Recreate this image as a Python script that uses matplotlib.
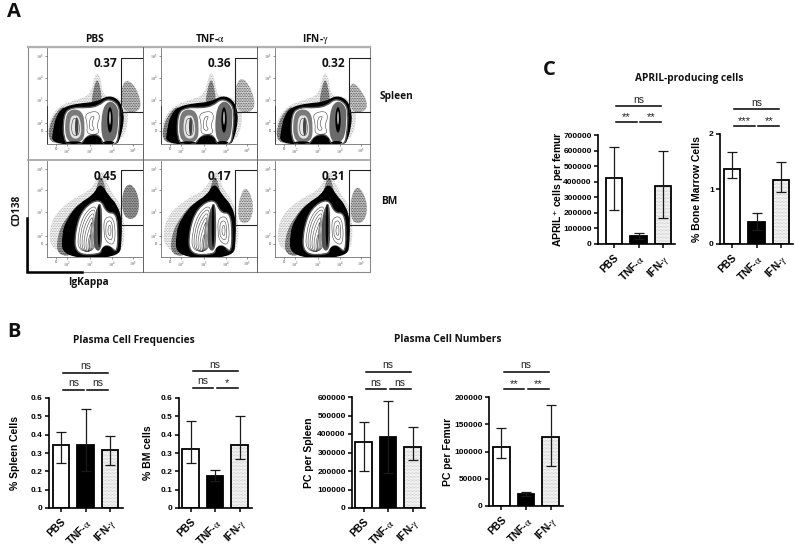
import matplotlib
matplotlib.use("Agg")
import matplotlib.pyplot as plt
from matplotlib.patches import Ellipse, PathPatch
from matplotlib.path import Path

W, H = 800, 548
plt.rcParams["font.family"] = ["Liberation Sans", "DejaVu Sans"]
plt.rcParams["mathtext.fontset"] = "stix"
plt.rcParams["hatch.linewidth"] = 0.4
HEAD = "Open Sans"

groups = ["PBS", r"TNF-$\mathrm{\alpha}$", r"IFN-$\mathrm{\gamma}$"]

# bar values: mean, top of error bar, bottom of error bar
b1_mean = [0.345, 0.345, 0.315]
b1_up = [0.415, 0.54, 0.395]
b1_low = [0.245, 0.20, 0.235]
b2_mean = [0.32, 0.175, 0.345]
b2_up = [0.475, 0.205, 0.50]
b2_low = [0.245, 0.15, 0.27]
b3_mean = [355000, 385000, 330000]
b3_up = [465000, 580000, 437000]
b3_low = [198000, 190000, 262000]
b4_mean = [108000, 22000, 127000]
b4_up = [143000, 26000, 186000]
b4_low = [88000, 18000, 74000]
c1_mean = [425000, 50000, 375000]
c1_up = [625000, 70000, 597000]
c1_low = [220000, 30000, 165000]
c2_mean = [1.36, 0.40, 1.17]
c2_up = [1.68, 0.57, 1.50]
c2_low = [1.20, 0.25, 0.95]

b1_ticks = [0, 0.1, 0.2, 0.3, 0.4, 0.5, 0.6]
b3_ticks = [0, 100000, 200000, 300000, 400000, 500000, 600000]
b4_ticks = [0, 50000, 100000, 150000, 200000]
c1_ticks = [0, 100000, 200000, 300000, 400000, 500000, 600000, 700000]
c2_ticks = [0, 1, 2]

# flow panels, values per panel
spleen_pct = ["0.37", "0.36", "0.32"]
bm_pct = ["0.45", "0.17", "0.31"]

# flow outlines
spleen_haze = [(143, 428), (143, 365), (175, 315), (240, 295), (272, 280), (285, 215), (300, 225), (308, 290),
               (345, 285), (385, 320), (380, 390), (355, 428)]
spleen_mids = [
    [(145, 428), (146, 375), (170, 330), (200, 312), (210, 428)],
    [(272, 318), (278, 270), (290, 232), (300, 260), (306, 310)],
]
spleen_black = [(155, 432), (160, 388), (170, 345), (192, 320), (240, 310), (290, 306), (325, 286), (356, 300),
                (370, 340), (365, 385), (356, 415), (348, 432)]
spleen_white = [(190, 434), (188, 340), (215, 320), (260, 322), (295, 316), (320, 294), (350, 306), (360, 335),
                (356, 400), (348, 434), (310, 434), (298, 405), (275, 400), (255, 412), (240, 434)]
spleen_fills = [
    ([(195, 426), (194, 345), (215, 324), (247, 332), (254, 375), (250, 426)], "#7a7a7a"),
    ([(208, 414), (207, 352), (225, 341), (241, 353), (244, 414)], "#e4e4e4"),
    ([(303, 426), (303, 332), (325, 298), (351, 314), (356, 350), (347, 426)], "#6a6a6a"),
]
spleen_lines = [
    [(252, 340), (290, 330), (300, 350), (288, 375), (300, 400), (258, 402), (262, 370)],
    [(268, 350), (285, 345), (272, 370), (285, 388), (266, 390)],
    [(214, 405), (214, 360), (226, 350), (236, 360), (238, 405)],
]
spleen_core = [(229, 378, 10, 55, "#444444"), (329, 358, 16, 76, "black"), (329, 352, 4, 40, "white"),
               (278, 418, 50, 24, "black"), (220, 426, 46, 8, "black"), (325, 426, 34, 10, "black")]

bm_haze = [(148, 765), (148, 655), (215, 595), (272, 570), (298, 515), (312, 515), (325, 565), (365, 615), (375, 700),
           (362, 765)]
bm_mids = [
    [(168, 765), (172, 700), (198, 650), (240, 603), (262, 610), (230, 765)],
    [(282, 595), (292, 545), (302, 525), (312, 548), (322, 600)],
]
bm_black = [(188, 770), (186, 700), (202, 655), (238, 610), (280, 585), (300, 548), (322, 585), (350, 615), (363, 660),
            (362, 720), (356, 770)]
bm_white = [(224, 762), (224, 690), (248, 622), (300, 592), (319, 638), (348, 636), (354, 700), (350, 756), (335, 742),
            (318, 733), (305, 745), (298, 762)]
bm_fills = [
    ([(282, 750), (278, 690), (288, 620), (304, 604), (306, 680), (304, 750)], "#555555"),
]
bm_lines = [
    [(233, 752), (233, 695), (254, 634), (292, 610), (284, 690), (286, 752)],
    [(239, 752), (239, 698), (258, 642), (288, 620), (280, 692), (282, 752)],
    [(245, 752), (245, 702), (262, 652), (284, 632), (276, 695), (278, 752)],
    [(251, 752), (251, 708), (266, 662), (280, 645), (272, 700), (274, 752)],
    [(257, 752), (257, 715), (270, 675), (276, 660), (268, 710), (270, 752)],
    [(263, 752), (263, 722), (272, 692), (266, 752)],
    [(312, 650), (342, 648), (346, 735), (316, 725), (310, 690)],
    [(318, 662), (336, 660), (338, 722), (318, 712), (316, 690)],
    [(324, 675), (332, 674), (332, 708), (322, 700)],
]
bm_core = [(296, 675, 8, 130, "black"), (320, 750, 32, 28, "black")]

spleen_clouds = [
    [(364, 335), (362, 255), (385, 235), (418, 280), (422, 335)],
    [(364, 335), (362, 250), (388, 228), (420, 285), (420, 335)],
    [(364, 335), (362, 255), (380, 245), (418, 300), (412, 335)],
]
spleen_cloud_colors = ["#c4c4c4", "#d4d4d4", "#cccccc"]
bm_clouds = [
    [(368, 655), (364, 575), (390, 543), (418, 590), (412, 655)],
    [(372, 668), (372, 600), (395, 552), (420, 610), (408, 668)],
    [(368, 668), (366, 590), (390, 550), (420, 610), (408, 668)],
]
bm_cloud_colors = ["#9a9a9a", "#d6d6d6", "#c0c0c0"]

flow_xticks = [166, 200, 268, 334, 398]
flow_xlabels = ["0", "$10^2$", "$10^3$", "$10^4$", "$10^5$"]
spleen_yticks = [168, 232, 298, 367, 390]
bm_yticks = [507, 568, 635, 705, 730]
flow_ylabels = ["$10^5$", "$10^4$", "$10^3$", "$10^2$", "0"]


def px_axes(left, top, right, bottom):
    return fig.add_axes([left / W, 1 - bottom / H, (right - left) / W, (bottom - top) / H])


def blob(points, **kw):
    # closed smooth outline: quadratic curves between the midpoints of the traced points
    n = len(points)
    mids = [((points[i][0] + points[(i + 1) % n][0]) / 2, (points[i][1] + points[(i + 1) % n][1]) / 2) for i in range(n)]
    verts = [mids[-1]]
    codes = [Path.MOVETO]
    for i in range(n):
        verts += [points[i], mids[i]]
        codes += [Path.CURVE3, Path.CURVE3]
    return PathPatch(Path(verts, codes), **kw)


fig = plt.figure(figsize=(W / 100, H / 100), dpi=100)

# page-level overlay in pixels, for the frame and the headings
page = fig.add_axes([0, 0, 1, 1])
page.set_xlim(0, W)
page.set_ylim(H, 0)
page.axis("off")

page.plot([28, 370, 370, 28, 28], [47, 47, 272, 272, 47], color="#8a8a8a", lw=0.8)
page.plot([28, 370], [47, 47], color="#b0b0b0", lw=1.6)
page.plot([28, 370], [159.5, 159.5], color="#a0a0a0", lw=1.2)
for x in [142.5, 256.5]:
    page.plot([x, x], [47, 272], color="#606060", lw=0.7)
page.plot([27, 27, 82], [218, 272, 272], color="black", lw=1.8, solid_joinstyle="miter")


def head(x, y, s, size=7.3, **kw):
    page.text(x, y, s, family=[HEAD, "DejaVu Sans"], weight="bold", fontsize=size, ha="center", va="center",
              color="#111111", **kw)


head(14, 12, "A", 14.5)
head(14, 332, "B", 14.5)
head(549, 70, "C", 14.5)
head(94, 39, "PBS")
head(210, 39, r"TNF-$\mathrm{\alpha}$")
head(315, 39, r"IFN-$\mathrm{\gamma}$")
head(396, 96, "Spleen")
head(389, 202, "BM")
head(17, 210, "CD138", rotation=90)
head(88, 283, "IgKappa")
head(689, 79, "APRIL-producing cells")
head(134, 340, "Plasma Cell Frequencies")
head(448, 340, "Plasma Cell Numbers")


def flow_panel(col, row):
    left = 47 + col * 114
    top = 48 if row == 0 else 161
    ax = px_axes(left, top, left + 95, top + 96)
    if row == 0:
        ax.set_ylim(430, 143)
        haze, mids, black, white, fills, lines, core = (spleen_haze, spleen_mids, spleen_black, spleen_white,
                                                        spleen_fills, spleen_lines, spleen_core)
        cloud, cloud_color, pct, yticks = spleen_clouds[col], spleen_cloud_colors[col], spleen_pct[col], spleen_yticks
        gate_top, gate_low = 172, 333
    else:
        ax.set_ylim(769, 482)
        haze, mids, black, white, fills, lines, core = bm_haze, bm_mids, bm_black, bm_white, bm_fills, bm_lines, bm_core
        cloud, cloud_color, pct, yticks = bm_clouds[col], bm_cloud_colors[col], bm_pct[col], bm_yticks
        gate_top, gate_low = 510, 672
    ax.set_xlim(140, 425)
    ax.patch.set_alpha(0)

    # stippled haze around the populations, dots come from the hatch
    ax.add_patch(blob(haze, facecolor="#f4f4f4", edgecolor="#9a9a9a", hatch="..........", lw=0))
    ax.add_patch(blob(cloud, facecolor=cloud_color, edgecolor="#333333", hatch="..........", lw=0))
    for m in mids:
        ax.add_patch(blob(m, facecolor="#999999", edgecolor="#222222", hatch="..........", lw=0))
    ax.add_patch(blob(black, facecolor="black", edgecolor="black", lw=1))
    ax.add_patch(blob(white, facecolor="white", edgecolor="#555555", lw=1.0))
    for pts, color in fills:
        ax.add_patch(blob(pts, facecolor=color, edgecolor="none"))
    for line in lines:
        ax.add_patch(blob(line, facecolor="none", edgecolor="#444444", lw=0.4))
    for cx, cy, w, h, color in core:
        ax.add_patch(Ellipse((cx, cy), w, h, facecolor=color, edgecolor="none"))
    if row == 0:
        ax.plot([141, 141], [320, 428], color="black", lw=1.4)

    ax.plot([425, 362, 362, 425], [gate_top, gate_top, gate_low, gate_low], color="#222222", lw=0.8, clip_on=False)
    ax.text(352, gate_top + 18, pct, family=[HEAD, "DejaVu Sans"], weight="bold", fontsize=8.6, ha="right",
            va="center", color="#111111")

    ax.set_xticks(flow_xticks)
    ax.set_xticklabels(flow_xlabels, fontsize=3, color="#444444")
    ax.set_yticks(yticks)
    ax.set_yticklabels(flow_ylabels, fontsize=3, color="#444444")
    ax.tick_params(length=1.5, width=0.4, pad=1, color="#444444")
    for side in ["top", "right"]:
        ax.spines[side].set_visible(False)
    for side in ["left", "bottom"]:
        ax.spines[side].set_linewidth(0.5)
        ax.spines[side].set_color("#555555")


for r in range(2):
    for c in range(3):
        flow_panel(c, r)


def bar_chart(box, first, mean, up, low, ticks, ylabel, label_x, y_top, sig, sig_y):
    left, top, right, bottom = box
    step = 24.5
    ax = px_axes(left, top, right, bottom)
    ax.patch.set_alpha(0)
    ax.set_xlim((left - first) / step, (right - first) / step)
    ax.set_ylim(0, y_top)
    xs = [0, 1, 2]
    ax.bar(xs[0], mean[0], 0.66, facecolor="white", edgecolor="black", linewidth=1.3, zorder=2)
    ax.bar(xs[1], mean[1], 0.66, facecolor="black", edgecolor="black", linewidth=1.3, zorder=2)
    ax.bar(xs[2], mean[2], 0.66, facecolor="white", edgecolor="#b0b0b0", hatch="............", linewidth=0, zorder=2)
    ax.bar(xs[2], mean[2], 0.66, facecolor="none", edgecolor="black", linewidth=1.3, zorder=2)
    yerr = [[m - l for m, l in zip(mean, low)], [u - m for m, u in zip(mean, up)]]
    ax.errorbar(xs, mean, yerr=yerr, fmt="none", ecolor="#1a1a1a", elinewidth=0.9, capsize=3.8, capthick=0.9, zorder=3)

    ax.set_xticks(xs)
    ax.set_xticklabels(groups, rotation=45, ha="right", rotation_mode="anchor", fontsize=7.4, fontweight="bold")
    ax.set_yticks(ticks)
    ax.set_yticklabels([str(t) for t in ticks], fontsize=6, fontweight="bold")
    ax.set_ylabel(ylabel, fontsize=7.5, fontweight="bold")
    # label_x is the centre of the label, the coords give its right edge
    ax.yaxis.set_label_coords((label_x + 5 - left) / (right - left), 0.5)
    ax.tick_params(axis="y", length=3, width=1.1, pad=1.5)
    ax.tick_params(axis="x", length=3, width=1.1, pad=3)
    for side in ["top", "right"]:
        ax.spines[side].set_visible(False)
    for side in ["left", "bottom"]:
        ax.spines[side].set_linewidth(1.2)

    # significance bars, heights given in pixels on the page
    y_hi, y_lo = sig_y
    frac = lambda py: (bottom - py) / (bottom - top)
    trans = ax.get_xaxis_transform()
    spans = [(0.1, 1.92, y_hi, sig[0]), (0.1, 0.93, y_lo, sig[1]), (1.08, 1.92, y_lo, sig[2])]
    for x0, x1, py, mark in spans:
        ax.plot([x0, x1], [frac(py), frac(py)], color="black", lw=1.1, transform=trans, clip_on=False)
        off = 6.5 if mark == "ns" else 5
        ax.text((x0 + x1) / 2, frac(py - off), mark, transform=trans, ha="center", va="center",
                fontsize=7.5 if mark == "ns" else 8, color="#222222", clip_on=False)
    return ax


bar_chart((49, 398, 123, 508), 61, b1_mean, b1_up, b1_low, b1_ticks, "% Spleen Cells", 15, 0.6,
          ("ns", "ns", "ns"), (373, 390))
bar_chart((179, 398, 252, 508), 190.5, b2_mean, b2_up, b2_low, b1_ticks, "% BM cells", 148, 0.6,
          ("ns", "ns", "*"), (371, 388))
bar_chart((352, 397, 425, 508), 363.5, b3_mean, b3_up, b3_low, b3_ticks, "PC per Spleen", 309, 600000,
          ("ns", "ns", "ns"), (372, 389))
bar_chart((489, 397, 563, 506), 501.5, b4_mean, b4_up, b4_low, b4_ticks, "PC per Femur", 448, 200000,
          ("ns", "**", "**"), (372, 389))
bar_chart((598, 135, 675, 244), 614, c1_mean, c1_up, c1_low, c1_ticks, r"APRIL$^{\mathbf{+}}$ cells per femur", 561,
          700000, ("ns", "**", "**"), (106, 122))
bar_chart((720, 134, 793, 244), 732, c2_mean, c2_up, c2_low, c2_ticks, "% Bone Marrow Cells", 697, 2,
          ("ns", "***", "**"), (109, 126))

fig.savefig("out.png", dpi=100)
